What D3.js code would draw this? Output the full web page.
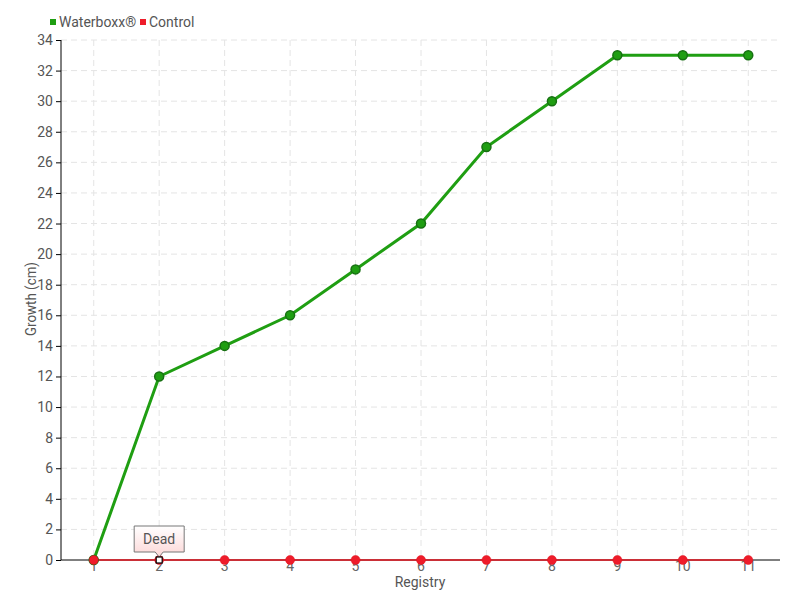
<!DOCTYPE html>
<html><head><meta charset="utf-8">
<script src="https://cdn.jsdelivr.net/npm/d3@7"></script>
<style>
body{margin:0;background:#fff}
text{font-family:Roboto,"Liberation Sans Narrow",sans-serif;fill:#555}
</style></head><body>
<svg id="c" width="800" height="600"></svg>
<script>
const categories = ["1","2","3","4","5","6","7","8","9","10","11"];
const waterboxx = [0,12,14,16,19,22,27,30,33,33,33];
const control = [0,0,0,0,0,0,0,0,0,0,0];
const yTicks = d3.range(0,35,2);
const seriesNames = ["Waterboxx®","Control"];
const annotation = {category:"2", value:0, label:"Dead"};

const svg = d3.select("#c");
const L=61,R=781,T=40,B=560;
const x = d3.scaleBand().domain(categories).range([L,R]);
const cx = d => x(d)+x.bandwidth()/2;
const y = d3.scaleLinear().domain([0,34]).range([B,T]);

// grid
const g = svg.append("g");
g.selectAll(".hg").data(yTicks.filter(d=>d>0)).join("line")
 .attr("x1",L).attr("x2",R).attr("y1",d=>y(d)).attr("y2",d=>y(d))
 .attr("stroke","#e4e4e4").attr("stroke-dasharray","6,4");
g.selectAll(".vg").data(categories).join("line")
 .attr("x1",d=>cx(d)).attr("x2",d=>cx(d)).attr("y1",T).attr("y2",B)
 .attr("stroke","#e4e4e4").attr("stroke-dasharray","6,4");

// y axis
const ya = svg.append("g").attr("transform",`translate(${L},0)`)
 .call(d3.axisLeft(y).tickValues(yTicks).tickSize(5).tickPadding(3));
ya.select(".domain").attr("stroke","#000").attr("d",`M0,${T}V${B}`);
ya.selectAll(".tick line").attr("stroke","#000");
ya.selectAll("text").attr("font-size",14).style("fill","#555");

// x axis
const xa = svg.append("g").attr("transform",`translate(0,${B})`)
 .call(d3.axisBottom(x).tickSize(0).tickPadding(1));
xa.select(".domain").attr("stroke","#000").attr("d",`M${L},0H${R-1}`);
xa.selectAll("text").attr("font-size",14).style("fill","#666");

// axis titles
svg.append("text").attr("x",420).attr("y",587).attr("text-anchor","middle").attr("font-size",14).text("Registry");
svg.append("text").attr("transform","translate(36,299) rotate(-90)").attr("text-anchor","middle").attr("font-size",14)
 .attr("textLength",74).attr("lengthAdjust","spacingAndGlyphs").text("Growth (cm)");

// series
const line = d3.line().x((d,i)=>cx(categories[i])).y(d=>y(d));
svg.append("path").datum(control).attr("d",line).attr("fill","none").attr("stroke","#e3141f").attr("stroke-width",1.5);
svg.append("path").datum(waterboxx).attr("d",line).attr("fill","none").attr("stroke","#1f9e12").attr("stroke-width",3);
svg.selectAll(".gm").data(waterboxx).join("circle")
 .attr("cx",(d,i)=>cx(categories[i])).attr("cy",d=>y(d)).attr("r",4.5)
 .attr("fill","#1f9e12").attr("stroke","#177012").attr("stroke-width",1.5);
svg.selectAll(".rm").data(control).join("circle")
 .attr("cx",(d,i)=>cx(categories[i])).attr("cy",d=>y(d)).attr("r",4.5)
 .attr("fill","#ee1c2a").attr("stroke","#e0101c").attr("stroke-width",0.5);

// annotation
const ax = cx(annotation.category), ay = y(annotation.value);
const defs = svg.append("defs");
const gr = defs.append("linearGradient").attr("id","tg").attr("x1",0).attr("x2",0).attr("y1",0).attr("y2",1);
gr.append("stop").attr("offset",0).attr("stop-color","#fff");
gr.append("stop").attr("offset",1).attr("stop-color","#fcd6d6");
const bw=50,bh=26,by=ay-34;
svg.append("path").attr("d",`M${ax-bw/2},${by}H${ax+bw/2}V${by+bh}H${ax+4}L${ax},${ay-3}L${ax-4},${by+bh}H${ax-bw/2}Z`)
 .attr("fill","url(#tg)").attr("stroke","#777").attr("stroke-width",1);
svg.append("text").attr("x",ax).attr("y",by+18).attr("text-anchor","middle").attr("font-size",14).text(annotation.label);
svg.append("rect").attr("x",ax-3).attr("y",ay-3).attr("width",6).attr("height",6).attr("fill","#fff").attr("stroke","#000").attr("stroke-width",1.2);

// legend
const lg = svg.append("g");
const colors=["#1f9e12","#ee1c2a"];
const lx=[50,140];
seriesNames.forEach((n,i)=>{
 lg.append("rect").attr("x",lx[i]).attr("y",19).attr("width",6).attr("height",6).attr("fill",colors[i]);
 lg.append("text").attr("x",lx[i]+9).attr("y",27).attr("font-size",14).text(n);
});
</script></body></html>
